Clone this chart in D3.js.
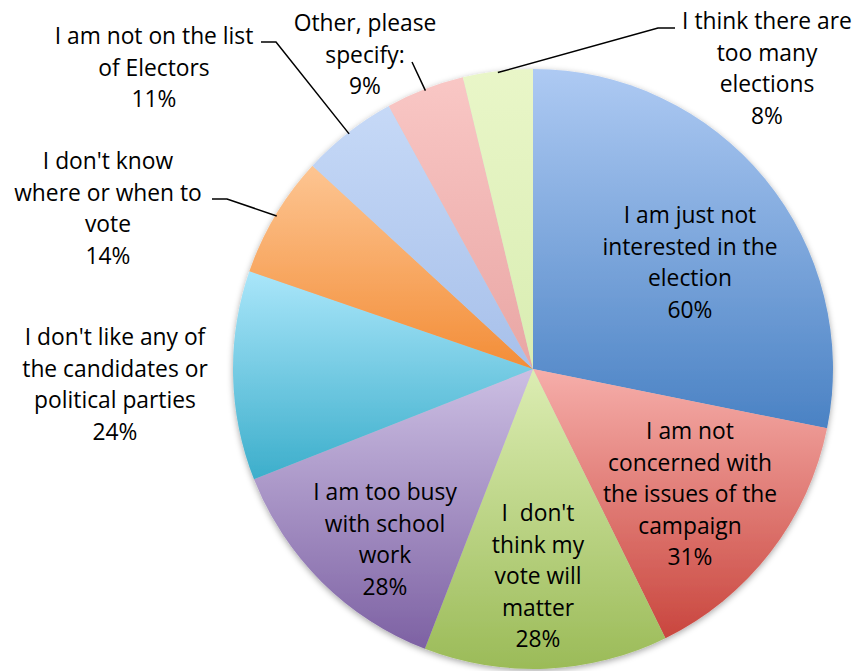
<!DOCTYPE html>
<html>
<head>
<meta charset="utf-8">
<script src="https://cdn.jsdelivr.net/npm/d3@7"></script>
<style>
  html, body { margin: 0; padding: 0; background: #fff; }
  svg { display: block; }
  text { font-family: "Open Sans", Lato, sans-serif; fill: #000; }
</style>
</head>
<body>
<svg id="chart" width="856" height="671"></svg>
<script>
// Reasons given for not voting (percent of respondents; multiple answers allowed)
const categories = [
  "I am just not interested in the election",
  "I am not concerned with the issues of the campaign",
  "I  don't think my vote will matter",
  "I am too busy with school work",
  "I don't like any of the candidates or political parties",
  "I don't know where or when to vote",
  "I am not on the list of Electors",
  "Other, please specify:",
  "I think there are too many elections"
];
const values = [60, 31, 28, 28, 24, 14, 11, 9, 8];
const labelLines = [
  ["I am just not", "interested in the", "election"],
  ["I am not", "concerned with", "the issues of the", "campaign"],
  ["I  don't", "think my", "vote will", "matter"],
  ["I am too busy", "with school", "work"],
  ["I don't like any of", "the candidates or", "political parties"],
  ["I don't know", "where or when to", "vote"],
  ["I am not on the list", "of Electors"],
  ["Other, please", "specify:"],
  ["I think there are", "too many", "elections"]
];
// slice gradient colours: [top, bottom]
const sliceColors = [
  ["#aecaf3", "#4a82c4"],
  ["#f6aeaa", "#c9463e"],
  ["#dcedb3", "#9bbb58"],
  ["#ccbfe3", "#7d61a3"],
  ["#aae6fa", "#3caecb"],
  ["#fdc592", "#f38d37"],
  ["#c6d9f7", "#a7c0ea"],
  ["#f9c7c5", "#e9a6a4"],
  ["#e9f6c8", "#d9edb2"]
];

const svg = d3.select("#chart");
const cx = 533, cy = 369, R = 300;
const fontSize = 22.8, lineH = 31.5;

const defs = svg.append("defs");
const shadow = defs.append("filter").attr("id", "shadow")
  .attr("x", "-10%").attr("y", "-10%").attr("width", "120%").attr("height", "120%");
shadow.append("feDropShadow").attr("dx", 0).attr("dy", 2)
  .attr("stdDeviation", 3).attr("flood-color", "#000").attr("flood-opacity", 0.35);

sliceColors.forEach((c, i) => {
  const g = defs.append("linearGradient").attr("id", "grad" + i)
    .attr("x1", 0).attr("y1", 0).attr("x2", 0).attr("y2", 1);
  g.append("stop").attr("offset", "0%").attr("stop-color", c[0]);
  g.append("stop").attr("offset", "100%").attr("stop-color", c[1]);
});

const pie = d3.pie().sort(null).value(d => d)(values);
const arc = d3.arc().innerRadius(0).outerRadius(R);

const pieG = svg.append("g").attr("transform", `translate(${cx},${cy})`);
pieG.append("g").attr("filter", "url(#shadow)")
  .selectAll("path").data(pie).join("path")
  .attr("d", arc)
  .attr("fill", (d, i) => `url(#grad${i})`);

// label placement (centre of first line, relative to pie centre)
const labelAnchors = [
  [157, -155], [157, 61], [5, 143], [-148, 122], [-418, -33],
  [-425, -209], [-379, -334], [-168, -347], [234, -349]
];

const labelG = svg.append("g").attr("transform", `translate(${cx},${cy})`);
pie.forEach((d, i) => {
  const [lx, ly] = labelAnchors[i];
  const t = labelG.append("text")
    .attr("text-anchor", "middle")
    .attr("font-size", fontSize)
    .attr("dominant-baseline", "central");
  const lines = labelLines[i].concat([Math.round(values[i]) + "%"]);
  lines.forEach((ln, k) => {
    t.append("tspan").attr("x", lx).attr("y", ly + k * lineH)
      .attr("xml:space", "preserve").style("white-space", "pre").text(ln);
  });
});

// leader lines for the outside labels: from label edge to the middle of the slice rim
function rimPoint(d) {
  const a = (d.startAngle + d.endAngle) / 2;
  return [Math.sin(a) * R, -Math.cos(a) * R];
}
const leaders = [
  { i: 5, pts: [[-321, -170], [-306, -170]] },
  { i: 6, pts: [[-272, -327], [-257, -327]] },
  { i: 7, pts: [[-121, -307]] },
  { i: 8, pts: [[142, -341], [125, -341]] }
];
leaders.forEach(l => {
  const rim = rimPoint(pie[l.i]);
  const pts = l.pts.concat([[rim[0] * 0.995, rim[1] * 0.995]]);
  labelG.append("path")
    .attr("d", d3.line()(pts))
    .attr("fill", "none").attr("stroke", "#000").attr("stroke-width", 1.5);
});
</script>
</body>
</html>
